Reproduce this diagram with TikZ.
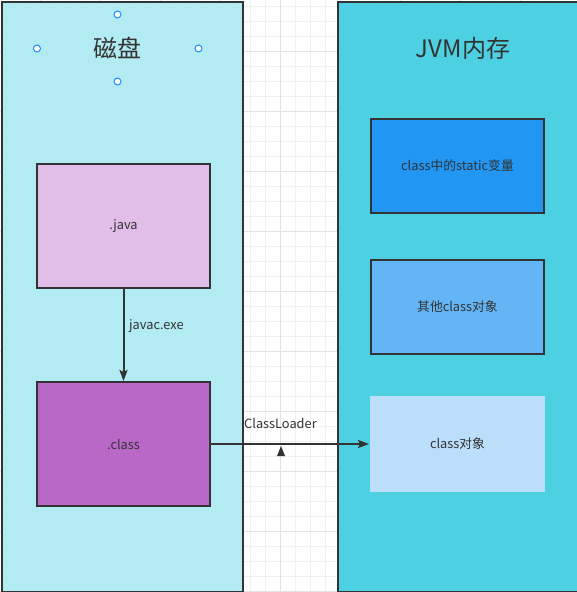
\documentclass[tikz,border=0pt]{standalone}
\usepackage{fontspec}
\setmainfont{Noto Sans CJK SC}
\usetikzlibrary{arrows.meta}
\definecolor{txt}{HTML}{333333}
\definecolor{edge}{HTML}{333333}
\definecolor{gridminor}{HTML}{F0F0F0}
\definecolor{gridmajor}{HTML}{E2E2E2}
\definecolor{diskfill}{HTML}{B2EBF2}
\definecolor{jvmfill}{HTML}{4DD0E1}
\definecolor{javafill}{HTML}{E1BEE7}
\definecolor{classfill}{HTML}{BA68C8}
\definecolor{staticfill}{HTML}{2196F3}
\definecolor{otherfill}{HTML}{64B5F6}
\definecolor{objfill}{HTML}{BBDEFB}
\definecolor{handle}{HTML}{1A8CFF}
\tikzset{
  panel/.style={draw=edge, line width=2pt, inner sep=0pt, anchor=north west},
  box/.style={draw=edge, line width=2pt, inner sep=0pt, text=txt, font=\fontsize{12.8}{15}\selectfont},
  title/.style={text=txt, font=\fontsize{24}{28}\selectfont, inner sep=0pt},
  lbl/.style={text=txt, font=\fontsize{12.8}{15}\selectfont, inner sep=0pt},
  handlept/.style={circle, draw=handle, fill=white, line width=1pt, minimum size=7pt, inner sep=0pt},
  conn/.style={draw=edge, line width=2pt, -{Stealth[length=11pt,width=8pt,inset=2pt]}}
}
\begin{document}
\begin{tikzpicture}[x=1pt,y=-1pt]
\useasboundingbox (0,0) rectangle (577,592);
\fill[white] (0,0) rectangle (577,592);
% grid
\foreach \gx in {10.3,25.3,...,577} {\draw[gridminor, line width=1pt] (\gx,0) -- (\gx,592);}
\foreach \gy in {6.3,21.3,...,592} {\draw[gridminor, line width=1pt] (0,\gy) -- (577,\gy);}
\foreach \gx in {40.3,100.3,...,577} {\draw[gridmajor, line width=1pt] (\gx,0) -- (\gx,592);}
\foreach \gy in {51.3,111.3,...,592} {\draw[gridmajor, line width=1pt] (0,\gy) -- (577,\gy);}
% panels
\node[panel, fill=diskfill, minimum width=241pt, minimum height=590pt] (disk) at (1,1) {};
\node[panel, fill=jvmfill, minimum width=240pt, minimum height=590pt] (jvm) at (337,1) {};
\node[title] (disktitle) at (117.5,48) {磁盘};
\node[title] (jvmtitle) at (463,48) {JVM内存};
% selection handles
\node[handlept] (h1) at (117.5,14.5) {};
\node[handlept] (h2) at (37,48.5) {};
\node[handlept] (h3) at (198.5,48.5) {};
\node[handlept] (h4) at (117.5,81.5) {};
% boxes
\node[box, fill=javafill, minimum width=173pt, minimum height=124pt] (java) at (123.5,226) {.java};
\node[box, fill=classfill, minimum width=173pt, minimum height=124pt] (class) at (123.5,444) {.class};
\node[box, fill=staticfill, minimum width=173pt, minimum height=94pt] (static) at (457.5,166) {class中的static变量};
\node[box, fill=otherfill, minimum width=173pt, minimum height=94pt] (other) at (457.5,307) {其他class对象};
\node[box, draw=none, fill=objfill, minimum width=175pt, minimum height=96pt] (obj) at (457.5,444) {class对象};
% connectors
\draw[conn] (java.south) -- (class.north);
\node[lbl, anchor=west] (javac) at (129,326) {javac.exe};
\draw[conn] (class.east) -- (obj.west);
\node[lbl, anchor=west] (loader) at (244,423) {ClassLoader};
\coordinate (mid) at (281,446);
\fill[edge] (mid) -- ++(-4,10) -- ++(8,0) -- cycle;
\end{tikzpicture}
\end{document}
